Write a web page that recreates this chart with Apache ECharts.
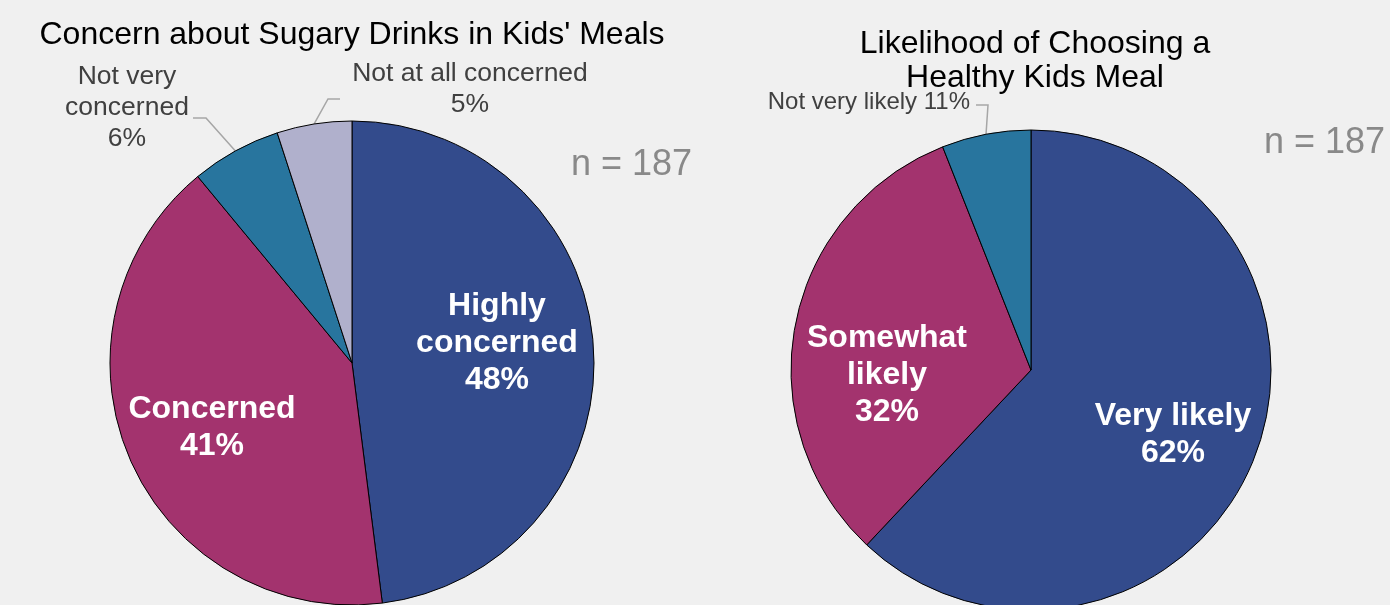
<!DOCTYPE html>
<html><head><meta charset="utf-8">
<script src="https://cdn.jsdelivr.net/npm/echarts@6/dist/echarts.min.js"></script>
<style>html,body{margin:0;padding:0;background:#f0f0f0}#c{width:1390px;height:605px}</style>
</head><body><div id="c"></div>
<script>
// ---- data ----
const leftTitle = "Concern about Sugary Drinks in Kids' Meals";
const leftCategories = ['Highly concerned', 'Concerned', 'Not very concerned', 'Not at all concerned'];
const leftValues = [48, 41, 6, 5];
const leftPercentLabels = ['48%', '41%', '6%', '5%'];
const leftLabelNames = ['Highly\nconcerned', 'Concerned', 'Not very\nconcerned', 'Not at all concerned'];

const rightTitle = 'Likelihood of Choosing a\nHealthy Kids Meal';
const rightCategories = ['Very likely', 'Somewhat likely', 'Not very likely'];
const rightValues = [62, 32, 6];
const rightPercentLabels = ['62%', '32%', '11%'];
const rightLabelNames = ['Very likely', 'Somewhat\nlikely', 'Not very likely'];

const sampleNote = 'n = 187';

// ---- styling / layout ----
const colorsLeft = ['#334b8c', '#a3336e', '#28759e', '#b0b0cc'];
const colorsRight = ['#334b8c', '#a3336e', '#28759e'];
const insideLeft = [true, true, false, false];
const insideRight = [true, true, false];
const labelPosLeft = [[497, 343, 'center'], [212, 428, 'center'], [127, 108, 'center'], [470, 89, 'center']];
const labelPosRight = [[1173, 435, 'center'], [887, 375, 'center'], [970, 102, 'right']];
// leader guides: [lineY, endX, elbowX] (null = no leader)
const leaderLeft = [null, null, [118, 193, 206], [99, 340, 328]];
const leaderRight = [null, null, [105, 976, 988]];

function buildData(cats, vals, pcts, names, colors, inside, single) {
  return cats.map((c, i) => ({
    name: c,
    value: vals[i],
    itemStyle: { color: colors[i] },
    label: inside[i] ? {
      position: 'inside',
      formatter: names[i] + '\n' + pcts[i],
      color: '#ffffff', fontWeight: 'bold', fontSize: 32, lineHeight: 37,
      fontFamily: 'Liberation Sans, Arial, sans-serif', align: 'center'
    } : {
      position: 'outside',
      formatter: single[i] ? names[i] + ' ' + pcts[i] : names[i] + '\n' + pcts[i],
      color: '#404040', fontWeight: 'normal', fontSize: single[i] ? 24 : 26.5, lineHeight: 31,
      fontFamily: 'Liberation Sans, Arial, sans-serif', align: 'center'
    },
    labelLine: { show: !inside[i], length: 15, length2: 12, lineStyle: { color: '#a6a6a6', width: 1.5 } }
  }));
}

function makeLayout(posArr, leaderArr) {
  return function (p) {
    const q = posArr[p.dataIndex];
    const out = { x: q[0], y: q[1], align: q[2], verticalAlign: 'middle' };
    const g = leaderArr[p.dataIndex];
    if (g && p.labelLinePoints && p.labelLinePoints.length) {
      const a = p.labelLinePoints[0];
      out.labelLinePoints = [[a[0], a[1]], [g[2], g[0]], [g[1], g[0]]];
    }
    return out;
  };
}

const chart = echarts.init(document.getElementById('c'), null, { renderer: 'canvas' });
chart.setOption({
  backgroundColor: '#f0f0f0',
  animation: false,
  title: [
    { text: leftTitle, left: 347, top: 14, textAlign: 'center',
      textStyle: { fontFamily: 'Liberation Sans, Arial, sans-serif', fontWeight: 'normal', fontSize: 32, color: '#000' } },
    { text: rightTitle, left: 1030, top: 22, textAlign: 'center',
      textStyle: { fontFamily: 'Liberation Sans, Arial, sans-serif', fontWeight: 'normal', fontSize: 32, lineHeight: 34, color: '#000' } }
  ],
  graphic: [
    { type: 'text', left: 571, top: 147, style: { text: sampleNote, fill: '#898989', font: '36px "Liberation Sans", Arial, sans-serif' } },
    { type: 'text', left: 1264, top: 125, style: { text: sampleNote, fill: '#898989', font: '36px "Liberation Sans", Arial, sans-serif' } }
  ],
  series: [
    {
      type: 'pie', center: [352, 363], radius: 242, startAngle: 90, clockwise: true,
      itemStyle: { borderColor: '#000', borderWidth: 1 },
      emphasis: { disabled: true },
      data: buildData(leftCategories, leftValues, leftPercentLabels, leftLabelNames, colorsLeft, insideLeft, [false, false, false, false]),
      labelLayout: makeLayout(labelPosLeft, leaderLeft)
    },
    {
      type: 'pie', center: [1031, 370], radius: 240, startAngle: 90, clockwise: true,
      itemStyle: { borderColor: '#000', borderWidth: 1 },
      emphasis: { disabled: true },
      data: buildData(rightCategories, rightValues, rightPercentLabels, rightLabelNames, colorsRight, insideRight, [false, false, true]),
      labelLayout: makeLayout(labelPosRight, leaderRight)
    }
  ]
});
</script></body></html>
